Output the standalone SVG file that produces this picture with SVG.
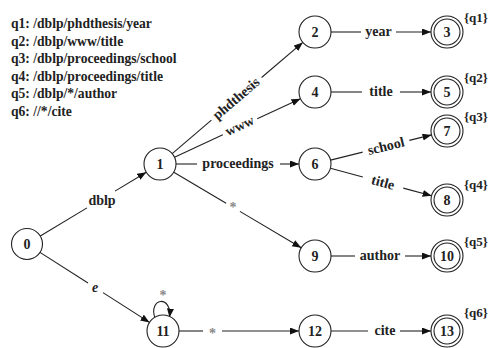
<svg xmlns="http://www.w3.org/2000/svg" width="488" height="348" viewBox="0 0 488 348">
<defs>
<marker id="arr" markerWidth="10" markerHeight="8" refX="9" refY="3.5" orient="auto" markerUnits="userSpaceOnUse">
<path d="M0,0 L9,3.5 L0,7 z" fill="#111"/>
</marker>
</defs>
<style>
text{font-family:"Liberation Serif","Times New Roman",serif;font-weight:bold;fill:#222}
.q{font-size:13.6px}
.n{font-size:14px;text-anchor:middle}
.l{font-size:14px;text-anchor:middle}
.it{font-style:italic}
.st{font-size:14px;text-anchor:middle;fill:#888}
.acc{font-size:13px}
circle{fill:#fff;stroke:#222;stroke-width:1.1}
.e line,.e path{stroke:#222;stroke-width:1.1;fill:none}
.h{marker-end:url(#arr)}
</style>
<rect width="488" height="348" fill="#fff"/>
<g id="queries">
<text class="q" x="11" y="28">q1: /dblp/phdthesis/year</text>
<text class="q" x="11" y="45.5">q2: /dblp/www/title</text>
<text class="q" x="11" y="63">q3: /dblp/proceedings/school</text>
<text class="q" x="11" y="80.5">q4: /dblp/proceedings/title</text>
<text class="q" x="11" y="98">q5: /dblp/*/author</text>
<text class="q" x="11" y="115.5">q6: //*/cite</text>
</g>
<g id="connectors" class="e">
<line x1="39.9" y1="236.3" x2="87" y2="207.9"/>
<line class="h" x1="115" y1="191.1" x2="146.3" y2="172.2"/>
<text class="l" x="102" y="205">dblp</text>
<line x1="39.6" y1="252.1" x2="88" y2="283"/>
<line class="h" x1="103" y1="292.6" x2="149.5" y2="322.4"/>
<text class="l it" x="95" y="291.5">e</text>
<line x1="172.2" y1="153.6" x2="211.4" y2="120.2"/>
<line class="h" x1="261.6" y1="77.5" x2="302.8" y2="42.4"/>
<text class="l" transform="translate(236.5,98.9) rotate(-40.4)" y="4">phdthesis</text>
<line x1="174.5" y1="157.3" x2="222.8" y2="134.8"/>
<line class="h" x1="257.2" y1="118.8" x2="300.5" y2="98.7"/>
<text class="l" transform="translate(240,126.8) rotate(-24.9)" y="3.5">www</text>
<line x1="176" y1="164" x2="197" y2="164"/>
<line class="h" x1="280" y1="164" x2="299" y2="164"/>
<text class="l" x="238" y="167.5">proceedings</text>
<line x1="173.8" y1="172.2" x2="226.1" y2="203.3"/>
<line class="h" x1="239.9" y1="211.4" x2="301.2" y2="247.8"/>
<text class="st" x="233" y="211.5">*</text>
<line x1="331" y1="32" x2="361" y2="32"/>
<line class="h" x1="396" y1="32" x2="431" y2="32"/>
<text class="l" x="378.5" y="35.5">year</text>
<line x1="331" y1="92" x2="362" y2="92"/>
<line class="h" x1="400" y1="92" x2="431" y2="92"/>
<text class="l" x="381" y="95.5">title</text>
<line x1="330.5" y1="160.1" x2="362.7" y2="152.1"/>
<line class="h" x1="409.3" y1="140.4" x2="431.5" y2="134.9"/>
<text class="l" transform="translate(386,146.2) rotate(-14.04)" y="4.5">school</text>
<line x1="330.4" y1="168.2" x2="362.8" y2="177"/>
<line class="h" x1="403.3" y1="188.1" x2="431.6" y2="195.8"/>
<text class="l" transform="translate(383,182.5) rotate(15.26)" y="4.5">title</text>
<line x1="331" y1="256" x2="355" y2="256"/>
<line class="h" x1="405" y1="256" x2="431" y2="256"/>
<text class="l" x="380" y="259.5">author</text>
<line x1="179" y1="331" x2="203" y2="331"/>
<line class="h" x1="222" y1="331" x2="299" y2="331"/>
<text class="st" x="212.5" y="338">*</text>
<line x1="331" y1="331" x2="368" y2="331"/>
<line class="h" x1="400" y1="331" x2="431" y2="331"/>
<text class="l" x="385" y="334.5">cite</text>
<path class="h" d="M155,318 C148,298 172,294 169.5,317.5"/>
<text class="st" x="163" y="300">*</text>
</g>
<g id="n0"><circle cx="27" cy="244" r="15.5"/><text class="n" x="27" y="249">0</text></g>
<g id="n1"><circle cx="160" cy="164" r="16"/><text class="n" x="160" y="169">1</text></g>
<g id="n2"><circle cx="315" cy="32" r="16"/><text class="n" x="315" y="37">2</text></g>
<g id="n3"><circle cx="447" cy="32" r="16"/><circle cx="447" cy="32" r="13"/><text class="n" x="447" y="37">3</text><text class="acc" x="464" y="22">{q1}</text></g>
<g id="n4"><circle cx="315" cy="92" r="16"/><text class="n" x="315" y="97">4</text></g>
<g id="n5"><circle cx="447" cy="92" r="16"/><circle cx="447" cy="92" r="13"/><text class="n" x="447" y="97">5</text><text class="acc" x="464" y="82">{q2}</text></g>
<g id="n6"><circle cx="315" cy="164" r="16"/><text class="n" x="315" y="169">6</text></g>
<g id="n7"><circle cx="447" cy="131" r="16"/><circle cx="447" cy="131" r="13"/><text class="n" x="447" y="136">7</text><text class="acc" x="464" y="121">{q3}</text></g>
<g id="n8"><circle cx="447" cy="200" r="16"/><circle cx="447" cy="200" r="13"/><text class="n" x="447" y="205">8</text><text class="acc" x="464" y="189">{q4}</text></g>
<g id="n9"><circle cx="315" cy="256" r="16"/><text class="n" x="315" y="261">9</text></g>
<g id="n10"><circle cx="447" cy="256" r="16"/><circle cx="447" cy="256" r="13"/><text class="n" x="447" y="261">10</text><text class="acc" x="464" y="246">{q5}</text></g>
<g id="n11"><circle cx="163" cy="331" r="16"/><text class="n" x="163" y="336">11</text></g>
<g id="n12"><circle cx="315" cy="331" r="16"/><text class="n" x="315" y="336">12</text></g>
<g id="n13"><circle cx="447" cy="331" r="16"/><circle cx="447" cy="331" r="13"/><text class="n" x="447" y="336">13</text><text class="acc" x="464" y="317">{q6}</text></g>
</svg>
